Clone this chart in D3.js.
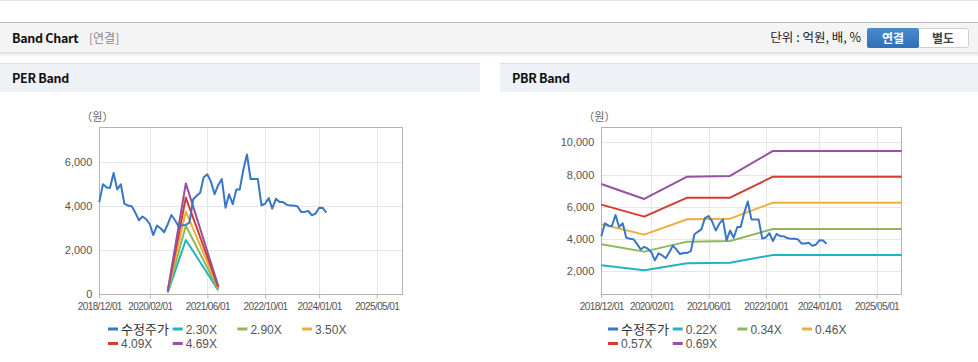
<!DOCTYPE html>
<html>
<head>
<meta charset="utf-8">
<script src="https://cdn.jsdelivr.net/npm/d3@7"></script>
<style>
  body { margin: 0; background: #fff; }
  svg { display: block; font-family: "Liberation Sans", "Noto Sans CJK KR", sans-serif; }
</style>
</head>
<body>
<div id="chart"></div>
<script>
// monthly adjusted close (수정주가)
const priceMonths = [
  '2018-12','2019-01','2019-02','2019-03','2019-04','2019-05','2019-06','2019-07','2019-08','2019-09','2019-10','2019-11',
  '2019-12','2020-01','2020-02','2020-03','2020-04','2020-05','2020-06','2020-07','2020-08','2020-09','2020-10','2020-11',
  '2020-12','2021-01','2021-02','2021-03','2021-04','2021-05','2021-06','2021-07','2021-08','2021-09','2021-10','2021-11',
  '2021-12','2022-01','2022-02','2022-03','2022-04','2022-05','2022-06','2022-07','2022-08','2022-09','2022-10','2022-11',
  '2022-12','2023-01','2023-02','2023-03','2023-04','2023-05','2023-06','2023-07','2023-08','2023-09','2023-10','2023-11',
  '2023-12','2024-01','2024-02','2024-03'
];
const priceValues = [
  4180, 4980, 4830, 4810, 5490, 4750, 4980, 4100, 4015, 3985, 3700, 3350,
  3520, 3400, 3170, 2680, 3110, 2990, 2810, 3170, 3590, 3350, 3070, 3130,
  3140, 3250, 4300, 4450, 4600, 5300, 5430, 5100, 4530, 4950, 5220, 3920,
  4530, 4080, 4740, 4740, 5640, 6330, 5220, 5220, 5220, 4030, 4100, 4360,
  3880, 4320, 4180, 4180, 4060, 4015, 4015, 3985, 3730, 3730, 3770, 3580,
  3650, 3920, 3910, 3700
];

// PER band
const perMonths = ['2020-07', '2020-12', '2021-09'];
const perLabels = ['2.30X', '2.90X', '3.50X', '4.09X', '4.69X'];
const per230 = [74, 2460, 184];
const per290 = [93, 3100, 232];
const per350 = [112, 3745, 281];
const per409 = [131, 4380, 328];
const per469 = [150, 5020, 376];

// PBR band
const pbrMonths = ['2018-12', '2019-12', '2020-12', '2021-12', '2022-12', '2025-12'];
const pbrLabels = ['0.22X', '0.34X', '0.46X', '0.57X', '0.69X'];
const pbr022 = [2372, 2062, 2496, 2537, 3013, 3013];
const pbr034 = [3674, 3220, 3840, 3881, 4625, 4625];
const pbr046 = [4915, 4274, 5225, 5266, 6258, 6258];
const pbr057 = [6134, 5390, 6568, 6568, 7870, 7870];
const pbr069 = [7416, 6486, 7871, 7912, 9462, 9462];

const xTickLabels = ['2018/12/01', '2020/02/01', '2021/06/01', '2022/10/01', '2024/01/01', '2025/05/01'];
const perYTicks = [0, 2000, 4000, 6000];
const pbrYTicks = [2000, 4000, 6000, 8000, 10000];

const priceColor = '#3877c8';
const bandColors = ['#22b3c3', '#8fb75a', '#f0ad3c', '#d63b2f', '#9552a0'];

const parseMonth = d3.timeParse('%Y-%m');
const parseTick = d3.timeParse('%Y/%m/%d');
const KR = '"Noto Sans CJK KR", sans-serif';

const W = 978, H = 362;
const svg = d3.select('#chart').append('svg').attr('width', W).attr('height', H);

const defs = svg.append('defs');
const shadow = defs.append('linearGradient').attr('id', 'shadow').attr('x1', 0).attr('x2', 0).attr('y1', 0).attr('y2', 1);
shadow.append('stop').attr('offset', 0).attr('stop-color', '#000').attr('stop-opacity', 0.13);
shadow.append('stop').attr('offset', 1).attr('stop-color', '#000').attr('stop-opacity', 0);
const btn = defs.append('linearGradient').attr('id', 'btn').attr('x1', 0).attr('x2', 0).attr('y1', 0).attr('y2', 1);
btn.append('stop').attr('offset', 0).attr('stop-color', '#4a8bd0');
btn.append('stop').attr('offset', 1).attr('stop-color', '#2f6fb5');

// page header
svg.append('rect').attr('x', 0).attr('y', 0).attr('width', W).attr('height', 1).attr('fill', '#e2e2e2');
svg.append('rect').attr('x', 0).attr('y', 22).attr('width', W).attr('height', 30).attr('fill', '#f4f4f4');
svg.append('rect').attr('x', 0).attr('y', 22).attr('width', W).attr('height', 1).attr('fill', '#bdbdbd');
svg.append('rect').attr('x', 0).attr('y', 52).attr('width', W).attr('height', 5).attr('fill', 'url(#shadow)');
svg.append('text').attr('x', 12).attr('y', 43)
  .attr('font-family', KR).attr('font-size', 12.5).attr('font-weight', 'bold')
  .attr('letter-spacing', -0.3).attr('fill', '#111').text('Band Chart');
svg.append('text').attr('x', 89).attr('y', 43)
  .attr('font-family', KR).attr('font-size', 12)
  .attr('fill', '#8a8a8a').text('[연결]');
svg.append('text').attr('x', 861).attr('y', 42).attr('text-anchor', 'end')
  .attr('font-family', KR).attr('font-size', 12.5)
  .attr('fill', '#222').text('단위 : 억원, 배, %');
svg.append('rect').attr('x', 918.5).attr('y', 28.5).attr('width', 50).attr('height', 19).attr('rx', 2)
  .attr('fill', '#fff').attr('stroke', '#cfcfcf');
svg.append('rect').attr('x', 867).attr('y', 28).attr('width', 52).attr('height', 20).attr('rx', 2)
  .attr('fill', 'url(#btn)');
svg.append('text').attr('x', 893).attr('y', 42.5).attr('text-anchor', 'middle')
  .attr('font-family', KR).attr('font-size', 12).attr('font-weight', 'bold')
  .attr('fill', '#fff').text('연결');
svg.append('text').attr('x', 943).attr('y', 42.5).attr('text-anchor', 'middle')
  .attr('font-family', KR).attr('font-size', 12).attr('font-weight', 'bold')
  .attr('fill', '#444').text('별도');

function panel(opts) {
  const g = svg.append('g');
  g.append('rect').attr('x', opts.x0).attr('y', 64).attr('width', opts.x1 - opts.x0).attr('height', 28).attr('fill', '#eef1f6');
  g.append('rect').attr('x', opts.x0).attr('y', 63).attr('width', opts.x1 - opts.x0).attr('height', 1).attr('fill', '#dcdfe4');
  g.append('text').attr('x', opts.x0 + 12).attr('y', 83)
    .attr('font-family', KR).attr('font-size', 12.5).attr('font-weight', 'bold')
    .attr('letter-spacing', -0.3).attr('fill', '#111').text(opts.title);

  const x = d3.scaleTime()
    .domain([parseMonth('2018-12'), parseMonth('2025-12')])
    .range([opts.left, opts.right]);
  const y = d3.scaleLinear().domain(opts.yDomain).range([294.3, 127.3]);

  // grid
  g.append('g').selectAll('line').data(opts.yTicks).join('line')
    .attr('x1', opts.left).attr('x2', opts.right)
    .attr('y1', d => Math.round(y(d)) + 0.5).attr('y2', d => Math.round(y(d)) + 0.5)
    .attr('stroke', '#e6e6e6');
  g.append('g').selectAll('line').data(xTickLabels).join('line')
    .attr('x1', d => Math.round(x(parseTick(d))) + 0.5).attr('x2', d => Math.round(x(parseTick(d))) + 0.5)
    .attr('y1', 127.3).attr('y2', 294.3)
    .attr('stroke', '#e6e6e6');

  // box
  g.append('rect').attr('x', Math.round(opts.left) + 0.5).attr('y', 127.5)
    .attr('width', Math.round(opts.right - opts.left)).attr('height', 167)
    .attr('fill', 'none').attr('stroke', '#b4b4b4');

  // axes
  const yAxis = g.append('g').attr('transform', `translate(${opts.left},0)`)
    .call(d3.axisLeft(y).tickValues(opts.yTicks).tickSize(0).tickPadding(7).tickFormat(d3.format(',')));
  yAxis.select('.domain').remove();
  yAxis.selectAll('text').attr('font-size', 11).attr('fill', '#555');

  const xAxis = g.append('g').attr('transform', 'translate(0,294.5)')
    .call(d3.axisBottom(x).tickValues(xTickLabels.map(parseTick)).tickSize(4).tickPadding(4)
      .tickFormat(d3.timeFormat('%Y/%m/%d')));
  xAxis.select('.domain').remove();
  xAxis.selectAll('line').attr('stroke', '#b4b4b4');
  xAxis.selectAll('text').attr('font-size', 10).attr('letter-spacing', -0.6).attr('fill', '#555');

  g.append('text').attr('x', opts.left - 18).attr('y', 121)
    .attr('font-family', KR).attr('font-size', 11)
    .attr('fill', '#666').text('（원）');

  const line = d3.line().x(d => x(d[0])).y(d => y(d[1]));

  // bands
  opts.bands.forEach((vals, i) => {
    g.append('path')
      .datum(opts.bandMonths.map((m, j) => [parseMonth(m), vals[j]]))
      .attr('d', line).attr('fill', 'none')
      .attr('stroke', bandColors[i]).attr('stroke-width', 2).attr('stroke-linejoin', 'round');
  });
  g.append('path')
    .datum(priceMonths.map((m, j) => [parseMonth(m), priceValues[j]]))
    .attr('d', line).attr('fill', 'none')
    .attr('stroke', priceColor).attr('stroke-width', 2).attr('stroke-linejoin', 'round');

  // legend
  const items = [{ name: '수정주가', color: priceColor }]
    .concat(opts.bandLabels.map((l, i) => ({ name: l, color: bandColors[i] })));
  const leg = g.append('g');
  items.forEach((it, i) => {
    const col = i % 4, row = Math.floor(i / 4);
    const lx = opts.x0 + 108 + col * 64.7, ly = 329 + row * 14.5;
    leg.append('line').attr('x1', lx).attr('x2', lx + 10).attr('y1', ly).attr('y2', ly)
      .attr('stroke', it.color).attr('stroke-width', 3);
    leg.append('text').attr('x', lx + 13).attr('y', ly + 4.5)
      .attr('font-family', i === 0 ? KR : '"Liberation Sans", sans-serif')
      .attr('font-size', i === 0 ? 13 : 12)
      .attr('fill', i === 0 ? '#333' : '#555').text(it.name);
  });
}

panel({
  title: 'PER Band', x0: 0, x1: 480, left: 99.3, right: 402,
  yDomain: [0, 7560], yTicks: perYTicks,
  bandMonths: perMonths, bandLabels: perLabels,
  bands: [per230, per290, per350, per409, per469]
});
panel({
  title: 'PBR Band', x0: 500, x1: 978, left: 601.3, right: 901.7,
  yDomain: [574, 10930], yTicks: pbrYTicks,
  bandMonths: pbrMonths, bandLabels: pbrLabels,
  bands: [pbr022, pbr034, pbr046, pbr057, pbr069]
});
</script>
</body>
</html>
